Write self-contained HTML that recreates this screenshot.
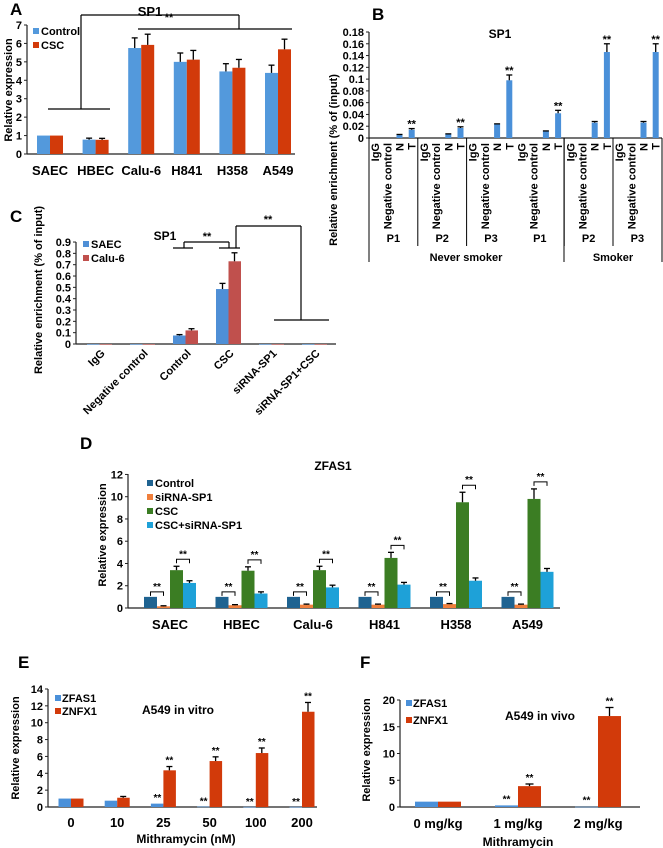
<!DOCTYPE html>
<html><head><meta charset="utf-8"><style>
html,body{margin:0;padding:0;background:#fff;}
svg{display:block;font-family:"Liberation Sans",Arial,sans-serif;font-weight:bold;}
</style></head><body>
<svg id="fig" width="663" height="848" viewBox="0 0 663 848" xmlns="http://www.w3.org/2000/svg"></svg>
<script>
// ---------- Panel A data ----------
const aCats = ["SAEC","HBEC","Calu-6","H841","H358","A549"];
const aControl = [1, 0.78, 5.75, 5.0, 4.48, 4.4];
const aCSC = [1, 0.77, 5.92, 5.12, 4.68, 5.68];
const aControlErr = [0, 0.08, 0.55, 0.48, 0.42, 0.42];
const aCSCErr = [0, 0.08, 0.58, 0.5, 0.45, 0.55];
const aTicks = [0,1,2,3,4,5,6,7];
// ---------- Panel B data ----------
const bGroups = ["P1","P2","P3","P1","P2","P3"];
const bCats = ["IgG","Negative control","N","T"];
const bN = [0.005, 0.006, 0.023, 0.011, 0.026, 0.026];
const bT = [0.014, 0.017, 0.098, 0.042, 0.146, 0.146];
const bTErr = [0.002, 0.002, 0.009, 0.005, 0.014, 0.014];
const bNErr = [0.001, 0.001, 0.001, 0.001, 0.002, 0.002];
const bTicks = [0,0.02,0.04,0.06,0.08,0.1,0.12,0.14,0.16,0.18];
const bTickLabels = ["0","0.02","0.04","0.06","0.08","0.1","0.12","0.14","0.16","0.18"];
// ---------- Panel C data ----------
const cCats = ["IgG","Negative control","Control","CSC","siRNA-SP1","siRNA-SP1+CSC"];
const cSAEC = [0, 0, 0.075, 0.485, 0, 0];
const cCalu = [0, 0, 0.12, 0.73, 0, 0];
const cSAECErr = [0, 0, 0.008, 0.05, 0, 0];
const cCaluErr = [0, 0, 0.015, 0.075, 0, 0];
const cTicks = [0,0.1,0.2,0.3,0.4,0.5,0.6,0.7,0.8,0.9];
const cTickLabels = ["0","0.1","0.2","0.3","0.4","0.5","0.6","0.7","0.8","0.9"];
// ---------- Panel D data ----------
const dCats = ["SAEC","HBEC","Calu-6","H841","H358","A549"];
const dControl = [1,1,1,1,1,1];
const dSi = [0.15, 0.25, 0.3, 0.3, 0.35, 0.3];
const dCSC = [3.4, 3.35, 3.4, 4.5, 9.5, 9.8];
const dCSCSi = [2.25, 1.3, 1.85, 2.1, 2.45, 3.25];
const dSiErr = [0.05,0.05,0.05,0.05,0.05,0.05];
const dCSCErr = [0.35, 0.35, 0.35, 0.5, 0.9, 0.9];
const dCSCSiErr = [0.2, 0.15, 0.2, 0.2, 0.25, 0.3];
const dTicks = [0,2,4,6,8,10,12];
// ---------- Panel E data ----------
const eCats = ["0","10","25","50","100","200"];
const eZFAS1 = [1, 0.75, 0.4, 0.05, 0.02, 0.02];
const eZNFX1 = [1, 1.1, 4.35, 5.45, 6.4, 11.3];
const eZFAS1Err = [0, 0.05, 0.05, 0, 0, 0];
const eZNFX1Err = [0, 0.15, 0.45, 0.5, 0.6, 1.1];
const eTicks = [0,2,4,6,8,10,12,14];
// ---------- Panel F data ----------
const fCats = ["0 mg/kg","1 mg/kg","2 mg/kg"];
const fZFAS1 = [1, 0.3, 0.05];
const fZNFX1 = [1, 3.9, 17];
const fZNFX1Err = [0, 0.4, 1.6];
const fTicks = [0,5,10,15,20];

const NS = "http://www.w3.org/2000/svg";
const svg = document.getElementById('fig');
function el(tag, attrs, name){
  const e = document.createElementNS(NS, tag);
  for (const k in attrs) e.setAttribute(k, attrs[k]);
  
  
  svg.appendChild(e);
  return e;
}
function txt(x, y, s, size, anchor, name, extra){
  const t = el('text', Object.assign({x:x, y:y, 'font-size':size, 'text-anchor':anchor||'middle', fill:'#000'}, extra||{}), name);
  t.textContent = s;
  return t;
}
function line(x1,y1,x2,y2,name,w,c){
  return el('line',{x1:x1,y1:y1,x2:x2,y2:y2,stroke:c||'#000','stroke-width':w||1},name);
}
function rect(x,y,w,h,fill,name){
  return el('rect',{x:x,y:Math.min(y,y+h),width:w,height:Math.max(Math.abs(h),0.6),fill:fill},name);
}
function errBar(cx, yTop, yErr, cap, name){
  if (yTop - yErr < 0.5) return;
  line(cx, yTop, cx, yErr, name, 1.3);
  line(cx-cap/2, yErr, cx+cap/2, yErr, name+'-cap', 1.3);
}
function yAxis(x, y0, y1, ticks, labels, scale, name, fs){
  line(x, y0, x, y1, name+'-line', 1.2, '#222');
  ticks.forEach((t,i)=>{
    const y = scale(t);
    line(x-3, y, x, y, name+'-tick', 1, '#222');
    txt(x-5, y+4, labels[i], fs||11, 'end', name+'-label');
  });
}

// ================= Panel A =================
txt(10, 15, "A", 17, 'start', 'panel-a-label');
txt(150, 16, "SP1", 13, 'middle', 'panel-a-title');
const yA = v => 154 - v*18.43;
const xA = i => 50 + i*45.6;
yAxis(27, 25, 154, aTicks, aTicks.map(String), yA, 'a-y-axis', 11);
line(27, 154, 295, 154, 'a-x-axis', 1.2, '#222');
txt(12, 90, "Relative expression", 11, 'middle', 'a-y-axis-title', {transform:'rotate(-90 12 90)'});
aCats.forEach((c,i)=>{
  const cx = xA(i);
  rect(cx-13, yA(aControl[i]), 13, yA(0)-yA(aControl[i]), '#5399dc', 'a-bar-control');
  rect(cx, yA(aCSC[i]), 13, yA(0)-yA(aCSC[i]), '#d23a0a', 'a-bar-csc');
  errBar(cx-6.5, yA(aControl[i]), yA(aControl[i]+aControlErr[i]), 6, 'a-err-control');
  errBar(cx+6.5, yA(aCSC[i]), yA(aCSC[i]+aCSCErr[i]), 6, 'a-err-csc');
  txt(cx, 175, c, 13, 'middle', 'a-x-tick-label');
});
rect(33, 28, 6, 6, '#5399dc', 'a-legend-control-swatch');
txt(41, 35, "Control", 11, 'start', 'a-legend-control');
rect(33, 42, 6, 6, '#d23a0a', 'a-legend-csc-swatch');
txt(41, 49, "CSC", 11, 'start', 'a-legend-csc');
line(48,109,110,109,'a-bracket-low',1.2);
line(81,109,81,15,'a-bracket-stem',1.2);
line(81,15,239,15,'a-bracket-top',1.2);
line(239,15,239,29,'a-bracket-right-stem',1.2);
line(138,29,292,29,'a-bracket-high',1.2);
txt(169, 21, "**", 11, 'middle', 'a-significance');

// ================= Panel B =================
txt(372, 20, "B", 17, 'start', 'panel-b-label');
txt(500, 38, "SP1", 12, 'middle', 'panel-b-title');
const yB = v => 138 - v*(106/0.18);
const bW = 12.2, bX0 = 369;
yAxis(369, 32, 138, bTicks, bTickLabels, yB, 'b-y-axis', 11);
line(369, 138, 662, 138, 'b-x-axis', 1.2, '#222');
txt(337, 160, "Relative enrichment (% of (input)", 11, 'middle', 'b-y-axis-title', {transform:'rotate(-90 337 160)'});
bGroups.forEach((g,gi)=>{
  const gx = bX0 + gi*4*bW;
  bCats.forEach((c,ci)=>{
    const cx = gx + (ci+0.5)*bW;
    txt(cx+4, 143, c, 11, 'end', 'b-x-tick-label', {transform:`rotate(-90 ${cx+4} 143)`});
  });
  const nx = gx + 2.5*bW, tx = gx + 3.5*bW;
  rect(nx-3, yB(bN[gi]), 6, yB(0)-yB(bN[gi]), '#4a90d9', 'b-bar-n');
  errBar(nx, yB(bN[gi]), yB(bN[gi]+bNErr[gi]), 6, 'b-err-n');
  rect(tx-3, yB(bT[gi]), 6, yB(0)-yB(bT[gi]), '#4a90d9', 'b-bar-t');
  errBar(tx, yB(bT[gi]), yB(bT[gi]+bTErr[gi]), 6, 'b-err-t');
  txt(tx, yB(bT[gi]+bTErr[gi])-1, "**", 11, 'middle', 'b-significance');
  txt(gx+2*bW, 242, g, 11, 'middle', 'b-group-label');
  if (gi>0 && gi!==3) line(gx, 138, gx, 246, 'b-group-separator', 1);
});
line(369,138,369,262,'b-outer-separator',1);
line(564,138,564,262,'b-smoker-separator',1);
line(662,138,662,262,'b-right-separator',1);
txt(466, 261, "Never smoker", 11, 'middle', 'b-never-smoker-label');
txt(613, 261, "Smoker", 11, 'middle', 'b-smoker-label');

// ================= Panel C =================
txt(10, 222, "C", 17, 'start', 'panel-c-label');
txt(165, 240, "SP1", 12, 'middle', 'panel-c-title');
const yC = v => 344 - v*113.3;
const xC = i => 99.5 + i*43;
yAxis(76, 242, 344, cTicks, cTickLabels, yC, 'c-y-axis', 11);
line(76, 344, 336, 344, 'c-x-axis', 1.2, '#222');
txt(42, 290, "Relative enrichment (% of input)", 11, 'middle', 'c-y-axis-title', {transform:'rotate(-90 42 290)'});
cCats.forEach((c,i)=>{
  const cx = xC(i);
  rect(cx-12.5, yC(cSAEC[i]), 12.5, yC(0)-yC(cSAEC[i]), '#4f8fd6', 'c-bar-saec');
  rect(cx, yC(cCalu[i]), 12.5, yC(0)-yC(cCalu[i]), '#c0504d', 'c-bar-calu6');
  errBar(cx-6, yC(cSAEC[i]), yC(cSAEC[i]+cSAECErr[i]), 6, 'c-err-saec');
  errBar(cx+6, yC(cCalu[i]), yC(cCalu[i]+cCaluErr[i]), 6, 'c-err-calu6');
  txt(cx+6, 354, c, 11, 'end', 'c-x-tick-label', {transform:`rotate(-45 ${cx+6} 354)`});
});
rect(83, 241, 6, 6, '#4f8fd6', 'c-legend-saec-swatch');
txt(91, 248, "SAEC", 11, 'start', 'c-legend-saec');
rect(83, 255, 6, 6, '#c0504d', 'c-legend-calu6-swatch');
txt(91, 262, "Calu-6", 11, 'start', 'c-legend-calu6');
line(173,248,193,248,'c-bracket1-left',1.2);
line(219,248,240,248,'c-bracket1-right',1.2);
line(184,248,184,242,'c-bracket1-lstem',1.2);
line(229,248,229,242,'c-bracket1-rstem',1.2);
line(184,242,229,242,'c-bracket1-top',1.2);
txt(207, 240, "**", 11, 'middle', 'c-significance-1');
line(236,248,236,226,'c-bracket2-lstem',1.2);
line(236,226,301,226,'c-bracket2-top',1.2);
line(301,226,301,320,'c-bracket2-rstem',1.2);
line(274,320,329,320,'c-bracket2-low',1.2);
txt(268, 223, "**", 11, 'middle', 'c-significance-2');

// ================= Panel D =================
txt(80, 449, "D", 17, 'start', 'panel-d-label');
txt(333, 470, "ZFAS1", 12, 'middle', 'panel-d-title');
const yD = v => 608 - v*11.13;
const xD = i => 170 + i*71.5;
yAxis(128, 474, 608, dTicks, dTicks.map(String), yD, 'd-y-axis', 11);
line(128, 608, 560, 608, 'd-x-axis', 1.2, '#222');
txt(106, 535, "Relative expression", 11, 'middle', 'd-y-axis-title', {transform:'rotate(-90 106 535)'});
dCats.forEach((c,i)=>{
  const cx = xD(i);
  rect(cx-26, yD(dControl[i]), 13, yD(0)-yD(dControl[i]), '#1f6391', 'd-bar-control');
  rect(cx-13, yD(dSi[i]), 13, yD(0)-yD(dSi[i]), '#f07f3c', 'd-bar-sirna');
  errBar(cx-6.5, yD(dSi[i]), yD(dSi[i]+dSiErr[i]), 6, 'd-err-sirna');
  rect(cx, yD(dCSC[i]), 13, yD(0)-yD(dCSC[i]), '#3b7d23', 'd-bar-csc');
  errBar(cx+6.5, yD(dCSC[i]), yD(dCSC[i]+dCSCErr[i]), 6, 'd-err-csc');
  rect(cx+13, yD(dCSCSi[i]), 13, yD(0)-yD(dCSCSi[i]), '#1ea1d8', 'd-bar-csc-sirna');
  errBar(cx+19.5, yD(dCSCSi[i]), yD(dCSCSi[i]+dCSCSiErr[i]), 6, 'd-err-csc-sirna');
  const b1 = yD(dControl[i])-5;
  el('path',{d:`M${cx-19.5} ${b1+4}V${b1}H${cx-6.5}V${b1+4}`,fill:'none',stroke:'#000','stroke-width':1},'d-bracket-control-sirna');
  txt(cx-13, b1-2, "**", 10, 'middle', 'd-significance-1');
  const b2 = yD(dCSC[i]+dCSCErr[i])-7;
  el('path',{d:`M${cx+6.5} ${b2+4}V${b2}H${cx+19.5}V${b2+4}`,fill:'none',stroke:'#000','stroke-width':1},'d-bracket-csc');
  txt(cx+13, b2-2, "**", 10, 'middle', 'd-significance-2');
  txt(cx, 629, c, 13, 'middle', 'd-x-tick-label');
});
const dLeg = [["Control","#1f6391"],["siRNA-SP1","#f07f3c"],["CSC","#3b7d23"],["CSC+siRNA-SP1","#1ea1d8"]];
dLeg.forEach((l,i)=>{
  rect(147, 480+i*14, 6, 6, l[1], 'd-legend-swatch');
  txt(155, 487+i*14, l[0], 11, 'start', 'd-legend-entry');
});

// ================= Panel E =================
txt(18, 668, "E", 17, 'start', 'panel-e-label');
txt(178, 714, "A549 in vitro", 12, 'middle', 'panel-e-title');
const yE = v => 807 - v*8.43;
const xE = i => 71 + i*46.2;
yAxis(48, 689, 807, eTicks, eTicks.map(String), yE, 'e-y-axis', 11);
line(48, 807, 317, 807, 'e-x-axis', 1.2, '#222');
txt(19, 748, "Relative expression", 11, 'middle', 'e-y-axis-title', {transform:'rotate(-90 19 748)'});
eCats.forEach((c,i)=>{
  const cx = xE(i);
  rect(cx-12.5, yE(eZFAS1[i]), 12.5, yE(0)-yE(eZFAS1[i]), '#4a90d9', 'e-bar-zfas1');
  errBar(cx-6, yE(eZFAS1[i]), yE(eZFAS1[i]+eZFAS1Err[i]), 6, 'e-err-zfas1');
  rect(cx, yE(eZNFX1[i]), 12.5, yE(0)-yE(eZNFX1[i]), '#d23a0a', 'e-bar-znfx1');
  errBar(cx+6, yE(eZNFX1[i]), yE(eZNFX1[i]+eZNFX1Err[i]), 6, 'e-err-znfx1');
  if (i>=2){
    txt(cx-6, yE(eZFAS1[i]+eZFAS1Err[i])-2, "**", 10, 'middle', 'e-significance-zfas1');
    txt(cx+6, yE(eZNFX1[i]+eZNFX1Err[i])-3, "**", 10, 'middle', 'e-significance-znfx1');
  }
  txt(cx, 827, c, 13, 'middle', 'e-x-tick-label');
});
txt(186, 843, "Mithramycin (nM)", 12, 'middle', 'e-x-axis-title');
rect(55, 695, 6, 6, '#4a90d9', 'e-legend-zfas1-swatch');
txt(62, 702, "ZFAS1", 11, 'start', 'e-legend-zfas1');
rect(55, 708, 6, 6, '#d23a0a', 'e-legend-znfx1-swatch');
txt(62, 715, "ZNFX1", 11, 'start', 'e-legend-znfx1');

// ================= Panel F =================
txt(360, 668, "F", 17, 'start', 'panel-f-label');
txt(540, 720, "A549 in vivo", 12, 'middle', 'panel-f-title');
const yF = v => 807 - v*5.35;
const xF = i => 438 + i*80;
yAxis(400, 700, 807, fTicks, fTicks.map(String), yF, 'f-y-axis', 11);
line(400, 807, 640, 807, 'f-x-axis', 1.2, '#222');
txt(370, 750, "Relative expression", 11, 'middle', 'f-y-axis-title', {transform:'rotate(-90 370 750)'});
fCats.forEach((c,i)=>{
  const cx = xF(i);
  rect(cx-23, yF(fZFAS1[i]), 23, yF(0)-yF(fZFAS1[i]), '#4a90d9', 'f-bar-zfas1');
  rect(cx, yF(fZNFX1[i]), 23, yF(0)-yF(fZNFX1[i]), '#d23a0a', 'f-bar-znfx1');
  errBar(cx+11.5, yF(fZNFX1[i]), yF(fZNFX1[i]+fZNFX1Err[i]), 8, 'f-err-znfx1');
  if (i>=1){
    txt(cx-11.5, yF(fZFAS1[i])-3, "**", 10, 'middle', 'f-significance-zfas1');
    txt(cx+11.5, yF(fZNFX1[i]+fZNFX1Err[i])-3, "**", 10, 'middle', 'f-significance-znfx1');
  }
  txt(cx, 828, c, 13, 'middle', 'f-x-tick-label');
});
txt(518, 846, "Mithramycin", 12, 'middle', 'f-x-axis-title');
rect(406, 700, 6, 6, '#4a90d9', 'f-legend-zfas1-swatch');
txt(413, 707, "ZFAS1", 11, 'start', 'f-legend-zfas1');
rect(406, 717, 6, 6, '#d23a0a', 'f-legend-znfx1-swatch');
txt(413, 724, "ZNFX1", 11, 'start', 'f-legend-znfx1');
</script>
</body></html>
